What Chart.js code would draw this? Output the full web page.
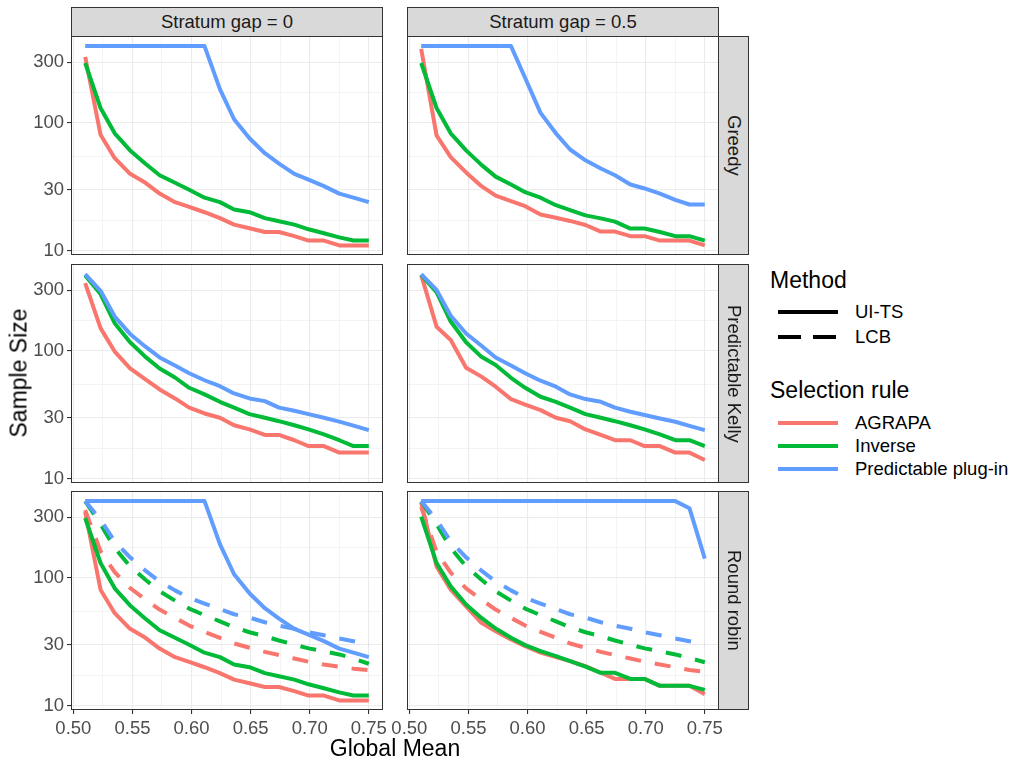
<!DOCTYPE html>
<html>
<head>
<meta charset="utf-8">
<script src="https://cdn.jsdelivr.net/npm/chart.js@4.4.1/dist/chart.umd.min.js"></script>
<style>
  body { margin: 0; width: 1028px; height: 768px; background: #fff; position: relative; overflow: hidden;
         font-family: "Liberation Sans", Arial, sans-serif; }
  canvas { position: absolute; }
  .strip { position: absolute; box-sizing: border-box; background: #D9D9D9; border: 1px solid #333;
           color: #1A1A1A; font-size: 18.5px; display: flex; align-items: center; justify-content: center; }
  .strip.right span { writing-mode: vertical-rl; }
  .title { position: absolute; font-size: 23px; color: #000; line-height: 1; white-space: nowrap; }
  .lab { position: absolute; font-size: 18.5px; color: #000; line-height: 1; white-space: nowrap; }
</style>
</head>
<body>
<script>
// x values (Global Mean) and axis breaks
const globalMean = [0.510, 0.523, 0.535, 0.548, 0.561, 0.573, 0.586, 0.598, 0.611, 0.624,
                    0.636, 0.649, 0.662, 0.674, 0.687, 0.699, 0.712, 0.725, 0.737, 0.750]
const xMajorTicks = [0.50, 0.55, 0.60, 0.65, 0.70, 0.75]
const xMinorTicks = [0.525, 0.575, 0.625, 0.675, 0.725]
const yMajorTicks = [10, 30, 100, 300]
const yMinorTicks = [17.3, 54.8, 173.2]

const stratumGaps = ['Stratum gap = 0', 'Stratum gap = 0.5']
const selectionRows = ['Greedy', 'Predictable Kelly', 'Round robin']
const ruleNames = ['AGRAPA', 'Inverse', 'Predictable plug-in']
const methodNames = ['UI-TS', 'LCB']

// Greedy
const greedy0Agrapa = [330, 81, 53, 40, 34, 28, 24, 22, 20, 18, 16, 15, 14, 14, 13, 12, 12, 11, 11, 11]
const greedy0Inverse = [295, 131, 83, 61, 48, 39, 34, 30, 26, 24, 21, 20, 18, 17, 16, 14.7, 13.7, 12.7, 12, 12]
const greedy0Plugin = [400, 400, 400, 400, 400, 400, 400, 400, 400, 184, 107, 76, 58, 48, 40, 36, 32, 28, 26, 24]
const greedy05Agrapa = [380, 80, 54, 41, 32, 27, 24.4, 22.3, 19.2, 18.1, 17.1, 15.9, 14.1, 14.1, 13, 13, 12, 12, 12, 11]
const greedy05Inverse = [295, 131, 83, 61, 47, 38, 33, 28.7, 26, 22.7, 20.8, 18.9, 17.9, 16.9, 14.9, 14.9, 14, 13, 13, 12]
const greedy05Plugin = [400, 400, 400, 400, 400, 400, 400, 225, 120, 83, 62, 51, 44, 39, 33, 30.7, 28, 25, 23, 23]

// Predictable Kelly
const kelly0Agrapa = [340, 151, 99, 73, 60, 50, 42.5, 36, 32.4, 30, 26.2, 24.3, 22, 22, 20, 18, 18, 16, 16, 16]
const kelly0Inverse = [391, 279, 165, 117, 90, 73, 62, 51.5, 45.7, 40, 36, 32, 30, 28.2, 26.2, 24.3, 22.2, 20, 18, 18]
const kelly0Plugin = [400, 296, 186, 136, 108, 89, 77, 67, 59, 53, 46.5, 42.5, 40.5, 36, 34, 32, 30, 28, 26, 24]
const kelly05Agrapa = [395, 155, 122, 74, 63, 52.5, 42, 38, 34.4, 30, 28.2, 24.3, 22, 20, 20, 18, 18, 16, 16, 14]
const kelly05Inverse = [395, 289, 170, 117, 90, 77.6, 61.7, 51.5, 43.8, 40, 36, 32, 30, 28.2, 26.2, 24.3, 22.2, 20, 20, 18]
const kelly05Plugin = [400, 301, 189, 137, 110, 89, 77, 67, 58.5, 52.5, 45.7, 42, 40, 36, 33.4, 31.5, 29.6, 27.9, 25.9, 24]

// Round robin
const robin0Agrapa = [330, 81, 53, 40, 34, 28, 24, 22, 20, 18, 16, 15, 14, 14, 13, 12, 12, 11, 11, 11]
const robin0Inverse = [295, 131, 83, 61, 48, 39, 34, 30, 26, 24, 21, 20, 18, 17, 16, 14.7, 13.7, 12.7, 12, 12]
const robin0Plugin = [400, 400, 400, 400, 400, 400, 400, 400, 400, 184, 107, 76, 58, 48, 40, 36, 32, 28, 26, 24]
const robin0AgrapaLcb = [340, 162, 111, 83.5, 67.7, 56.6, 48.7, 42.4, 37.9, 34, 30.7, 28.4, 26.4, 24.9, 23.4, 22.1, 21, 20.2, 19.5, 19]
const robin0InverseLcb = [400, 264, 172, 123, 97, 78.7, 66.5, 57.6, 51.1, 45.8, 41.2, 37.6, 35, 32.4, 30.1, 28.1, 26.7, 25.2, 23.4, 21.3]
const robin0PluginLcb = [400, 286, 193, 145, 114, 94, 80, 70, 63, 57, 52, 49, 45, 42.4, 40, 37.6, 35.6, 33.6, 32, 30]
const robin05Agrapa = [390, 123, 81, 60, 44.5, 38.3, 33, 29.2, 26, 24, 22.3, 20.4, 18.1, 16.2, 16.2, 16.2, 14.3, 14.3, 14.3, 12.3]
const robin05Inverse = [303, 131, 86, 62, 48.7, 40.2, 34, 29.8, 26.7, 24.4, 22.3, 20.2, 18.1, 18.1, 16.2, 16.2, 14.3, 14.3, 14.3, 13.3]
const robin05Plugin = [400, 400, 400, 400, 400, 400, 400, 400, 400, 400, 400, 400, 400, 400, 400, 400, 400, 400, 352, 142]
const robin05AgrapaLcb = [360, 160, 110, 83, 67.7, 56.6, 48.7, 42.4, 37.9, 34, 30.7, 28.4, 26.4, 24.9, 23.4, 22.1, 21, 20, 19, 18.4]
const robin05InverseLcb = [400, 264, 172, 123, 97, 78.7, 66.5, 57.6, 51.1, 45.8, 41.2, 37.6, 35, 32.4, 30.1, 28.1, 26.7, 25.2, 23.6, 21.9]
const robin05PluginLcb = [400, 286, 193, 145, 114, 94, 80, 70, 63, 57, 52, 49, 45, 42.4, 40, 37.6, 35.6, 33.6, 32, 30]

const ruleColors = ['#F8766D', '#00BA38', '#619CFF']

// rule index, method index, values
const panels = [
  {row: 0, col: 0, series: [[0, 0, greedy0Agrapa], [1, 0, greedy0Inverse], [2, 0, greedy0Plugin]]},
  {row: 0, col: 1, series: [[0, 0, greedy05Agrapa], [1, 0, greedy05Inverse], [2, 0, greedy05Plugin]]},
  {row: 1, col: 0, series: [[0, 0, kelly0Agrapa], [1, 0, kelly0Inverse], [2, 0, kelly0Plugin]]},
  {row: 1, col: 1, series: [[0, 0, kelly05Agrapa], [1, 0, kelly05Inverse], [2, 0, kelly05Plugin]]},
  {row: 2, col: 0, series: [[0, 0, robin0Agrapa], [0, 1, robin0AgrapaLcb], [1, 0, robin0Inverse],
                            [1, 1, robin0InverseLcb], [2, 0, robin0Plugin], [2, 1, robin0PluginLcb]]},
  {row: 2, col: 1, series: [[0, 0, robin05Agrapa], [0, 1, robin05AgrapaLcb], [1, 0, robin05Inverse],
                            [1, 1, robin05InverseLcb], [2, 0, robin05Plugin], [2, 1, robin05PluginLcb]]}
]

// layout of the facet grid (pixels)
const PANEL_LEFT = [71, 407]
const PANEL_TOP = [36, 264, 491]
const PANEL_W = 312
const PANEL_H = 219

Chart.defaults.font.family = '"Liberation Sans", Arial, sans-serif'

// panel border drawn on top, like theme_bw
const panelBorderPlugin = {
  id: 'panelBorder',
  beforeDraw: (chart) => {
    const { ctx, chartArea: a } = chart
    ctx.save()
    ctx.fillStyle = '#ffffff'
    ctx.fillRect(a.left, a.top, a.right - a.left, a.bottom - a.top)
    ctx.restore()
  },
  afterDraw: (chart) => {
    const { ctx, chartArea: a } = chart
    ctx.save()
    ctx.strokeStyle = '#333333'
    ctx.lineWidth = 1
    ctx.strokeRect(Math.round(a.left) + 0.5, Math.round(a.top) + 0.5,
      Math.round(a.right - a.left) - 1, Math.round(a.bottom - a.top) - 1)
    ctx.restore()
  }
}

function isMajor(list, v) {
  return list.some(m => Math.abs(m - v) < 1e-9)
}

function makePanel(p) {
  let pad = { top: 2, bottom: p.row < 2 ? 2 : 0, left: p.col === 0 ? 0 : 20, right: 8 }
  let yAxisW = p.col === 0 ? 71 : 0
  let xAxisH = p.row === 2 ? 34 : 0
  let w = pad.left + yAxisW + PANEL_W + pad.right
  let h = pad.top + PANEL_H + xAxisH + pad.bottom

  let canvas = document.createElement('canvas')
  canvas.width = w
  canvas.height = h
  canvas.style.width = w + 'px'
  canvas.style.height = h + 'px'
  canvas.style.left = (PANEL_LEFT[p.col] - yAxisW - pad.left) + 'px'
  canvas.style.top = (PANEL_TOP[p.row] - pad.top) + 'px'
  document.body.appendChild(canvas)

  // ggplot draws groups in order; Chart.js puts dataset 0 on top, so reverse
  let datasets = p.series.map(([rule, method, values]) => ({
    label: ruleNames[rule] + ' ' + methodNames[method],
    data: globalMean.map((x, i) => ({ x: x, y: values[i] })),
    borderColor: ruleColors[rule],
    borderWidth: 4,
    borderDash: method === 1 ? [16, 14] : [],
    borderCapStyle: 'butt',
    borderJoinStyle: 'round',
    pointRadius: 0,
    tension: 0,
    fill: false
  })).reverse()

  let gridWidth = (list) => (ctx) => ctx.tick && isMajor(list, ctx.tick.value) ? 1.1 : 0.55

  return new Chart(canvas.getContext('2d'), {
    type: 'line',
    data: { datasets: datasets },
    plugins: [panelBorderPlugin],
    options: {
      responsive: false,
      animation: false,
      events: [],
      layout: { padding: pad },
      plugins: { legend: { display: false }, tooltip: { enabled: false } },
      scales: {
        x: {
          type: 'linear',
          min: 0.498,
          max: 0.762,
          afterBuildTicks: (scale) => {
            scale.ticks = xMajorTicks.concat(xMinorTicks).sort((a, b) => a - b).map(v => ({ value: v }))
          },
          afterFit: (scale) => {
            scale.height = xAxisH
            scale.paddingLeft = 0
            scale.paddingRight = 0
          },
          border: { display: false },
          grid: {
            color: '#EBEBEB',
            lineWidth: gridWidth(xMajorTicks),
            drawTicks: p.row === 2,
            tickLength: 4,
            tickWidth: 1.1,
            tickColor: (ctx) => ctx.tick && isMajor(xMajorTicks, ctx.tick.value) ? '#333333' : 'rgba(0,0,0,0)'
          },
          ticks: {
            display: p.row === 2,
            autoSkip: false,
            maxRotation: 0,
            padding: 4,
            color: '#4D4D4D',
            font: { size: 18.5 },
            callback: (v) => isMajor(xMajorTicks, v) ? v.toFixed(2) : ''
          }
        },
        y: {
          type: 'logarithmic',
          min: 9.25,
          max: 480,
          afterBuildTicks: (scale) => {
            scale.ticks = yMajorTicks.concat(yMinorTicks).sort((a, b) => a - b).map(v => ({ value: v }))
          },
          afterFit: (scale) => {
            scale.width = yAxisW
            scale.paddingTop = 0
            scale.paddingBottom = 0
          },
          border: { display: false },
          grid: {
            color: '#EBEBEB',
            lineWidth: gridWidth(yMajorTicks),
            drawTicks: p.col === 0,
            tickLength: 4,
            tickWidth: 1.1,
            tickColor: (ctx) => ctx.tick && isMajor(yMajorTicks, ctx.tick.value) ? '#333333' : 'rgba(0,0,0,0)'
          },
          ticks: {
            display: p.col === 0,
            autoSkip: false,
            padding: 3,
            color: '#4D4D4D',
            font: { size: 18.5 },
            callback: (v) => isMajor(yMajorTicks, v) ? String(v) : ''
          }
        }
      }
    }
  })
}

function addDiv(cls, text, style) {
  let d = document.createElement('div')
  d.className = cls
  let s = document.createElement('span')
  s.textContent = text
  d.appendChild(s)
  Object.assign(d.style, style)
  document.body.appendChild(d)
  return d
}

panels.forEach(makePanel)

// facet strips
stratumGaps.forEach((t, c) => {
  addDiv('strip', t, { left: PANEL_LEFT[c] + 'px', top: '7px', width: PANEL_W + 'px', height: '30px' })
})
selectionRows.forEach((t, r) => {
  addDiv('strip right', t, { left: (PANEL_LEFT[1] + PANEL_W - 1) + 'px', top: PANEL_TOP[r] + 'px', width: '31px', height: PANEL_H + 'px' })
})

// axis titles
addDiv('title', 'Global Mean', { left: (PANEL_LEFT[0] + PANEL_LEFT[1] + PANEL_W) / 2 + 'px', top: '737px', transform: 'translateX(-50%)' })
addDiv('title', 'Sample Size', { left: '19px', top: (PANEL_TOP[0] + PANEL_TOP[2] + PANEL_H) / 2 + 'px', transform: 'translate(-50%, -50%) rotate(-90deg)' })

// legends
function legendKey(y, color, dash) {
  let ns = 'http://www.w3.org/2000/svg'
  let svg = document.createElementNS(ns, 'svg')
  svg.setAttribute('width', '60')
  svg.setAttribute('height', '8')
  svg.style.position = 'absolute'
  svg.style.left = '778px'
  svg.style.top = (y - 4) + 'px'
  let line = document.createElementNS(ns, 'line')
  line.setAttribute('x1', '0'); line.setAttribute('x2', '60')
  line.setAttribute('y1', '4'); line.setAttribute('y2', '4')
  line.setAttribute('stroke', color)
  line.setAttribute('stroke-width', '4')
  if (dash) line.setAttribute('stroke-dasharray', dash)
  svg.appendChild(line)
  document.body.appendChild(svg)
}

addDiv('title', 'Method', { left: '770px', top: '269px' })
const methodY = [312, 337]
methodNames.forEach((m, i) => {
  legendKey(methodY[i], '#000', i === 1 ? '23 12' : null)
  addDiv('lab', m, { left: '855px', top: (methodY[i] - 9) + 'px' })
})
addDiv('title', 'Selection rule', { left: '770px', top: '379px' })
const ruleY = [423, 446, 469]
ruleNames.forEach((m, i) => {
  legendKey(ruleY[i], ruleColors[i], null)
  addDiv('lab', m, { left: '855px', top: (ruleY[i] - 9) + 'px' })
})
</script>
</body>
</html>
